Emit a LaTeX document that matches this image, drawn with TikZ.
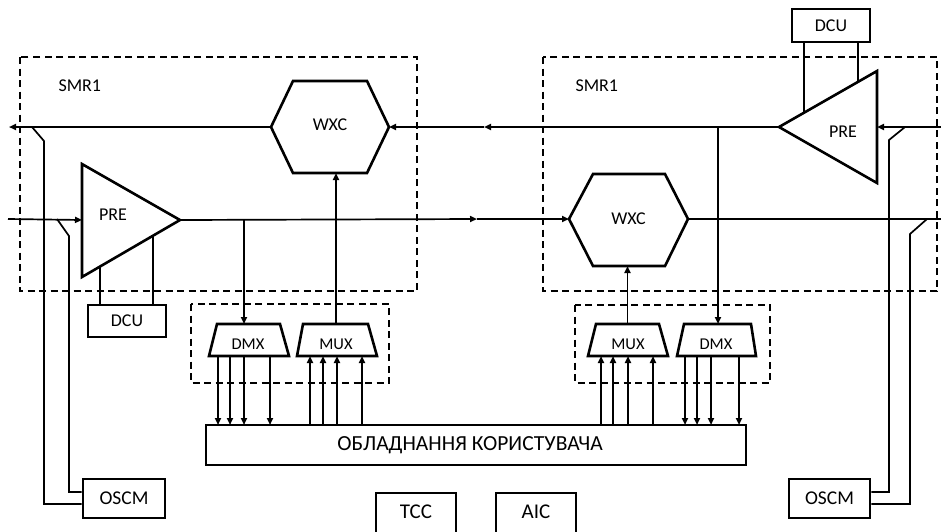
\documentclass[tikz,border=0pt]{standalone}
\usepackage{fontspec}
\setmainfont{Carlito}
\usetikzlibrary{arrows.meta,calc}
\begin{document}
\begin{tikzpicture}[x=1pt,y=-1pt,
  ln/.style={line width=1.7pt},
  arr/.style={ln,-{Triangle[length=7pt,width=6pt]}},
  shp/.style={line width=2.6pt,line join=miter},
  box/.style={draw,line width=2.6pt,inner sep=0pt},
  dbox/.style={line width=1.6pt,dash pattern=on 7pt off 4.5pt},
  lbl/.style={font=\fontsize{18}{18}\selectfont},
  small/.style={font=\fontsize{16.5}{16.5}\selectfont}]
\useasboundingbox (0,0) rectangle (941,531);

% dashed group frames
\draw[dbox] (20,57) rectangle (417,291);
\draw[dbox] (543,57) rectangle (937,291);
\draw[dbox] (191,304) rectangle (389,383);
\draw[dbox] (575,305) rectangle (770,383);
\node[lbl,anchor=west] (smrL) at (55,86) {SMR1};
\node[lbl,anchor=west] (smrR) at (572,86) {SMR1};

% left PRE (pointing right)
\coordinate (preLt) at (82,164);
\coordinate (preLb) at (82,277);
\coordinate (preLo) at (180,220);
\draw[shp] (preLt) -- (preLo) -- (preLb) -- cycle;
\node[lbl] (preL) at (113,215) {PRE};
\coordinate (preLi) at (82,220);

% right PRE (pointing left)
\coordinate (preRt) at (877,71);
\coordinate (preRb) at (877,183);
\coordinate (preRo) at (779,127);
\draw[shp] (preRt) -- (preRo) -- (preRb) -- cycle;
\node[lbl] (preR) at (843,132) {PRE};
\coordinate (preRi) at (877,127);

% left WXC
\node[lbl] (wxcL) at (330,125) {WXC};
\coordinate (wxcLw) at (271,127);
\coordinate (wxcLe) at (389,127);
\coordinate (wxcLs) at (336,173);
\draw[shp] (271,127) -- (293,81) -- (367,81) -- (389,127) -- (367,173) -- (293,173) -- cycle;

% right WXC
\node[lbl] (wxcR) at (628.5,219) {WXC};
\coordinate (wxcRw) at (569,219);
\coordinate (wxcRe) at (688,219);
\coordinate (wxcRs) at (627.5,266);
\draw[shp] (569,219) -- (593,174) -- (665,174) -- (688,219) -- (665,266) -- (593,266) -- cycle;

% DCU / OSCM / TCC / AIC / user equipment
\node[box,minimum width=78pt,minimum height=32pt,lbl] (dcuL) at (127,321) {DCU};
\node[box,minimum width=78pt,minimum height=33pt,lbl] (dcuR) at (831,25.5) {DCU};
\node[box,minimum width=82pt,minimum height=39pt,font=\fontsize{19.5}{19.5}\selectfont] (oscmL) at (124,498.5) {OSCM};
\node[box,minimum width=81pt,minimum height=39pt,font=\fontsize{19.5}{19.5}\selectfont] (oscmR) at (829.5,498.5) {OSCM};
\node[box,minimum width=80pt,minimum height=47pt] (tcc) at (416,516.5) {};
\node[font=\fontsize{21}{21}\selectfont] (tcct) at (416,512) {TCC};
\node[box,minimum width=80pt,minimum height=47pt] (aic) at (536,516.5) {};
\node[font=\fontsize{21}{21}\selectfont] (aict) at (536,512) {AIC};
\node[box,minimum width=540pt,minimum height=40pt] (ue) at (476,445) {};
\node[font=\fontsize{21.5}{21.5}\selectfont] (uet) at (470,445) {ОБЛАДНАННЯ КОРИСТУВАЧА};

% trapezia
\draw[shp] (209,356) -- (217,324) -- (280,324) -- (289,356) -- cycle;
\node[small] (dmxL) at (248,344) {DMX};
\draw[shp] (297,356) -- (303,324) -- (368,324) -- (377,356) -- cycle;
\node[small] (muxL) at (336,344) {MUX};
\draw[shp] (588,356) -- (596,324) -- (659,324) -- (668,356) -- cycle;
\node[small] (muxR) at (628,344) {MUX};
\draw[shp] (677,356) -- (684,324) -- (751,324) -- (756,356) -- cycle;
\node[small] (dmxR) at (716,344) {DMX};

% main lines
\coordinate (eL) at (9,127);
\coordinate (eL2) at (8,219);
\coordinate (eR) at (941,127);
\coordinate (eR2) at (941,219);
\coordinate (midT) at (484,127);
\coordinate (midB) at (477,219);
\draw[arr] (eR) -- (preRi);
\draw[arr] (preRo) -- (midT);
\draw[arr] (midT) -- (wxcLe);
\draw[arr] (wxcLw) -- (eL);
\draw[arr] (eL2) -- (preLi);
\draw[arr] (preLo) -- (midB);
\draw[arr] (midB) -- (wxcRw);
\draw[ln] (wxcRe) -- (eR2);

% drops to DMX, rises from MUX
\draw[arr] (244,219) -- (244,324);
\draw[arr] (718,127) -- (718,324);
\draw[arr] (336,324) -- (wxcLs);
\draw[arr] (627.5,324) -- (wxcRs);
\foreach \x in {218,230,244,270,685,697,711,739} \draw[arr] (\x,356) -- (\x,425);
\foreach \x in {310,323,337,362,601,613,628,653} \draw[arr] (\x,425) -- (\x,356);

% DCU links
\draw[ln] ($(preLb)!0.1837!(preLo)$) -- (100,305);
\draw[ln] ($(preLb)!0.7245!(preLo)$) -- (153,305);
\draw[ln] ($(preRo)!0.255!(preRt)$) -- (804,42);
\draw[ln] ($(preRo)!0.806!(preRt)$) -- (858,42);

% OSC taps
\draw[ln] (32,127) -- (44,141) -- (44,504) -- (oscmL.west |- 0,504);
\draw[ln] (57,219) -- (69,236) -- (69,492) -- (oscmL.west |- 0,492);
\draw[ln] (905,127) -- (889,140) -- (889,492) -- (oscmR.east |- 0,492);
\draw[ln] (927,219) -- (910,234) -- (910,504) -- (oscmR.east |- 0,504);
\end{tikzpicture}
\end{document}
